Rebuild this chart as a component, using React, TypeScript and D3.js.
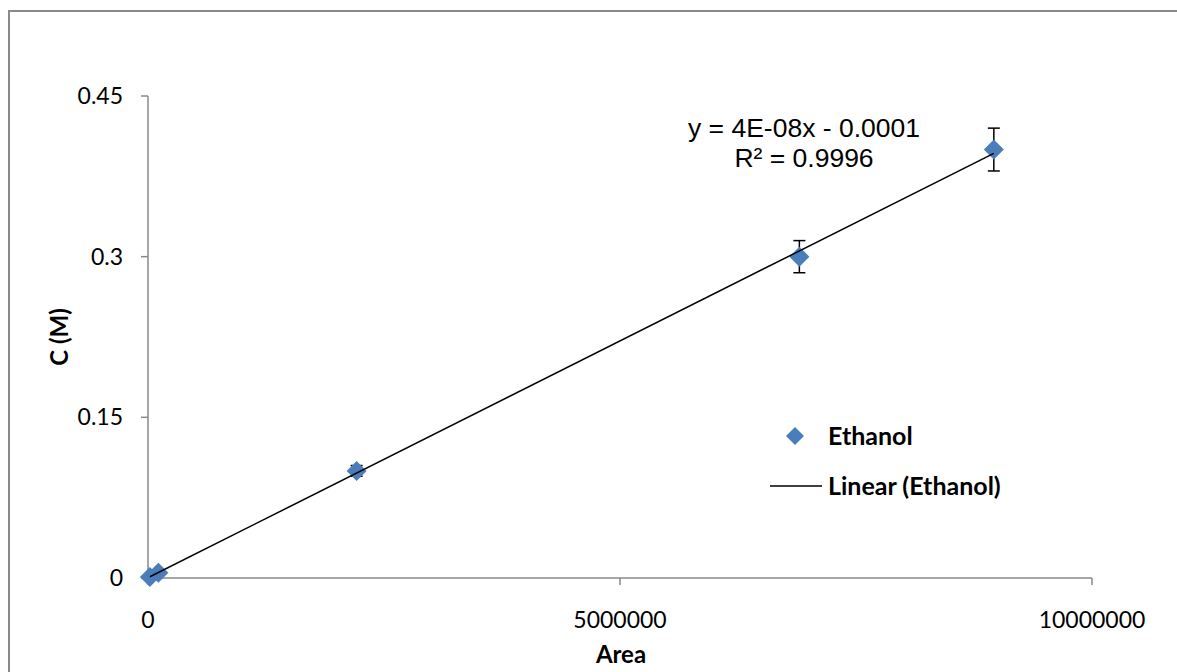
import React from "react";
import * as d3 from "d3";

const areas = [20000, 110000, 2210000, 6900000, 8960000];
const concentrations = [0.001, 0.005, 0.1, 0.3, 0.4];
const errors = [0.00005, 0.00025, 0.005, 0.015, 0.02];
const xTicks = [0, 5000000, 10000000];
const yTicks = [0, 0.15, 0.3, 0.45];
const equationLines = ["y = 4E-08x - 0.0001", "R² = 0.9996"];
const seriesName = "Ethanol";
const trendName = "Linear (Ethanol)";

const W = 1177;
const H = 672;
const M = { left: 148, right: 1092, top: 96, bottom: 578 };
const tickFont = "Lato, 'Open Sans', sans-serif";

export default function App() {
  const x = d3.scaleLinear().domain([0, 10000000]).range([M.left, M.right]);
  const y = d3.scaleLinear().domain([0, 0.45]).range([M.bottom, M.top]);

  const n = areas.length;
  const mx = d3.mean(areas)!;
  const my = d3.mean(concentrations)!;
  let sxy = 0, sxx = 0;
  for (let i = 0; i < n; i++) {
    sxy += (areas[i] - mx) * (concentrations[i] - my);
    sxx += (areas[i] - mx) ** 2;
  }
  const slope = sxy / sxx;
  const intercept = my - slope * mx;
  const [xMin, xMax] = d3.extent(areas) as [number, number];
  const trend = d3.line<number>().x((d) => x(d)).y((d) => y(slope * d + intercept));

  const diamond = (cx: number, cy: number, r: number) =>
    `M${cx},${cy - r}L${cx + r},${cy}L${cx},${cy + r}L${cx - r},${cy}Z`;

  const axisColor = "#898989";

  return (
    <svg
      width={W}
      height={H}
      style={{ position: "absolute", left: 0, top: 0, background: "#fff" }}
    >
      <rect x={0} y={0} width={W} height={H} fill="#fff" />
      <rect x={9} y={11} width={W + 20} height={H + 20} fill="none" stroke={axisColor} strokeWidth={2} />

      {/* axes */}
      <line x1={M.left} x2={M.left} y1={M.top} y2={M.bottom} stroke={axisColor} strokeWidth={1.5} />
      <line x1={M.left} x2={M.right} y1={M.bottom} y2={M.bottom} stroke={axisColor} strokeWidth={1.5} />
      {yTicks.map((t) => (
        <g key={"y" + t}>
          <line x1={M.left - 7} x2={M.left} y1={y(t)} y2={y(t)} stroke={axisColor} strokeWidth={1.5} />
          <text x={123} y={y(t)} dy="0.35em" textAnchor="end" fontFamily={tickFont} fontSize={23} fill="#000">
            {String(t)}
          </text>
        </g>
      ))}
      {xTicks.map((t) => (
        <g key={"x" + t}>
          <line x1={x(t)} x2={x(t)} y1={M.bottom} y2={M.bottom + 7} stroke={axisColor} strokeWidth={1.5} />
          <text x={x(t)} y={620} dy="0.35em" textAnchor="middle" fontFamily={tickFont} fontSize={23} fill="#000">
            {String(t)}
          </text>
        </g>
      ))}

      {/* axis titles */}
      <text x={621} y={655} dy="0.35em" textAnchor="middle" fontFamily={tickFont} fontWeight="bold" fontSize={24}>
        Area
      </text>
      <text
        transform={`translate(60,${(M.top + M.bottom) / 2}) rotate(-90)`}
        dy="0.35em"
        textAnchor="middle"
        fontFamily={tickFont}
        fontWeight="bold"
        fontSize={24}
      >
        C (M)
      </text>

      {/* error bars */}
      {areas.map((a, i) => {
        const cx = x(a);
        const y1 = y(concentrations[i] + errors[i]);
        const y2 = y(concentrations[i] - errors[i]);
        return (
          <g key={"e" + i} stroke="#000" strokeWidth={1.5}>
            <line x1={cx} x2={cx} y1={y1} y2={y2} />
            <line x1={cx - 6} x2={cx + 6} y1={y1} y2={y1} />
            <line x1={cx - 6} x2={cx + 6} y1={y2} y2={y2} />
          </g>
        );
      })}

      {/* markers */}
      {areas.map((a, i) => (
        <path key={"p" + i} d={diamond(x(a), y(concentrations[i]), 10)} fill="#4a7ebb" />
      ))}

      {/* trendline */}
      <path d={trend([xMin, xMax]) || ""} fill="none" stroke="#000" strokeWidth={1.5} />

      {/* equation */}
      {equationLines.map((l, i) => (
        <text
          key={"eq" + i}
          x={804}
          y={128 + i * 30}
          dy="0.35em"
          textAnchor="middle"
          fontFamily="'Liberation Sans', Arial, sans-serif"
          fontSize={26.5}
          fill="#000"
        >
          {l}
        </text>
      ))}

      {/* legend */}
      <path d={diamond(795, 436, 9)} fill="#4a7ebb" />
      <text x={828} y={436} dy="0.35em" fontFamily={tickFont} fontWeight="bold" fontSize={25}>
        {seriesName}
      </text>
      <line x1={770} x2={822} y1={486} y2={486} stroke="#000" strokeWidth={1.5} />
      <text x={828} y={486} dy="0.35em" fontFamily={tickFont} fontWeight="bold" fontSize={25}>
        {trendName}
      </text>
    </svg>
  );
}
